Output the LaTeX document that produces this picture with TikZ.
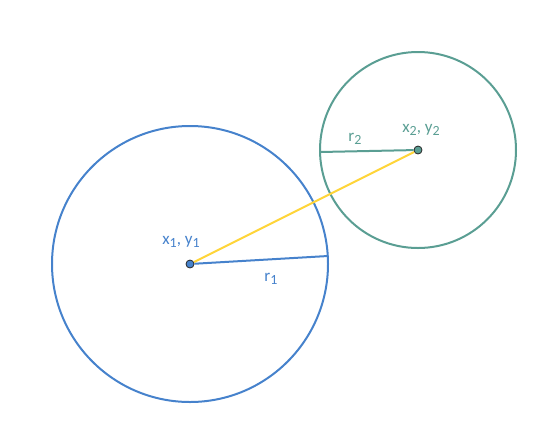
\documentclass[tikz,border=0pt]{standalone}
\usepackage{fontspec}
\setmainfont{Carlito}
\usepackage{xcolor}
\definecolor{bigring}{HTML}{4682CC}
\definecolor{smallring}{HTML}{5A9E93}
\definecolor{link}{HTML}{FFD53A}
\newcommand{\lowidx}[1]{\raisebox{-0.45ex}{\fontsize{14}{16}\selectfont #1}}

\begin{document}
\begin{tikzpicture}[x=1pt,y=-1pt,
		centre/.style={circle, draw=black!85, line width=0.8pt, inner sep=0pt, minimum size=8pt},
		ring/.style={line width=2pt},
		lbl/.style={font=\fontsize{17}{20}\selectfont, inner sep=1pt}
	]
		\useasboundingbox (0,0) rectangle (557,432);
		% first circle
		\draw [ring, bigring] (190,264) circle (138);
		\node [centre, fill=bigring] (p1) at (190,264) {};
		\coordinate (e1) at (328,256);
		\draw [ring, bigring] (p1) -- (e1);
		\node [lbl, text=bigring] (c1) at (181,242) {x\lowidx{1}, y\lowidx{1}};
		\node [lbl, text=bigring] (r1) at (271,279) {r\lowidx{1}};
		%
		% second circle
		\draw [ring, smallring] (418,150) circle (98);
		\node [centre, fill=smallring] (p2) at (418,150) {};
		\coordinate (e2) at (320,152);
		\draw [ring, smallring] (p2) -- (e2);
		\node [lbl, text=smallring] (c2) at (421,130) {x\lowidx{2}, y\lowidx{2}};
		\node [lbl, text=smallring] (r2) at (355,139) {r\lowidx{2}};
		%
		% distance between centres
		\draw [ring, link] (p1) -- (p2);
	\end{tikzpicture}
\end{document}
